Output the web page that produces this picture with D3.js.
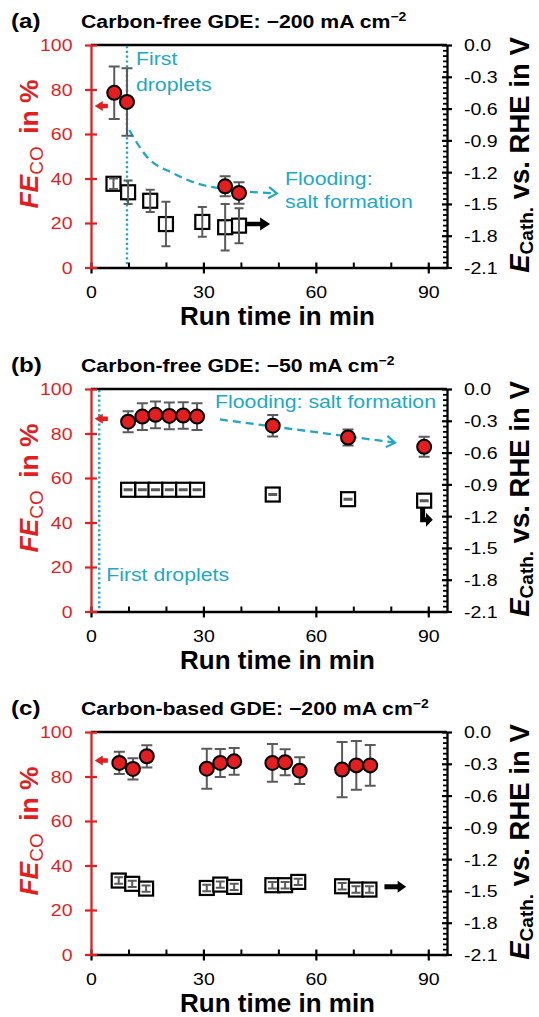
<!DOCTYPE html>
<html>
<head>
<meta charset="utf-8">
<script src="https://cdn.jsdelivr.net/npm/d3@7"></script>
<style>
  body { margin: 0; background: #fff; }
  svg { font-family: "Liberation Sans", Arial, sans-serif; }
</style>
</head>
<body>
<svg id="fig" width="539" height="1017"></svg>
<script>
// ---- data ----
const panelLetters = ['(a)', '(b)', '(c)'];
const panelTitles = ['Carbon-free GDE: \u2212200 mA cm', 'Carbon-free GDE: \u221250 mA cm', 'Carbon-based GDE: \u2212200 mA cm'];
const xTicks = [0, 30, 60, 90];
const xMinorTicks = [10, 20, 40, 50, 70, 80];
const feTicks = [0, 20, 40, 60, 80, 100];
const eTicks = [0, -0.3, -0.6, -0.9, -1.2, -1.5, -1.8, -2.1];
const eMinorStep = 0.05;

// (a) carbon-free, -200 mA cm-2
const timeFeA = [6.2, 9.6, 35.8, 39.5];
const feA = [78.5, 74.4, 36.5, 33.5];
const feErrA = [11.8, 15.2, 4.5, 4.8];
const timeEA = [6.0, 9.9, 15.8, 20.0, 29.7, 35.8, 39.5];
const eA = [-1.31, -1.39, -1.47, -1.69, -1.67, -1.72, -1.705];
const eErrA = [0.05, 0.11, 0.105, 0.21, 0.14, 0.22, 0.165];

// (b) carbon-free, -50 mA cm-2
const timeFeB = [9.9, 13.7, 17.2, 20.9, 24.6, 28.3, 48.5, 68.6, 88.9];
const feB = [85.3, 87.6, 88.4, 87.9, 88.1, 87.6, 83.5, 78.2, 74.0];
const feErrB = [4.7, 6.0, 6.0, 6.0, 6.0, 6.0, 4.8, 3.6, 4.5];
const timeEB = [9.9, 13.7, 17.2, 20.9, 24.6, 28.3, 48.5, 68.6, 88.9];
const eB = [-0.951, -0.951, -0.951, -0.951, -0.951, -0.951, -0.996, -1.04, -1.054];
const eErrB = [0.005, 0.005, 0.005, 0.005, 0.005, 0.005, 0.005, 0.005, 0.005];

// (c) carbon-based, -200 mA cm-2
const timeFeC = [7.55, 11.2, 14.9, 30.9, 34.5, 38.2, 48.4, 51.8, 55.7, 67.0, 70.8, 74.5];
const feC = [86.1, 83.4, 89.1, 83.5, 86.1, 86.8, 86.1, 86.4, 82.6, 83.1, 85.0, 85.0];
const feErrC = [5.0, 4.8, 5.0, 9.0, 6.3, 6.0, 8.5, 5.8, 6.0, 12.4, 11.0, 9.2];
const timeEC = [7.4, 11.0, 14.7, 30.9, 34.5, 38.2, 48.4, 51.8, 55.3, 67.0, 70.7, 74.3];
const eC = [-1.402, -1.433, -1.478, -1.472, -1.44, -1.462, -1.446, -1.446, -1.415, -1.456, -1.487, -1.487];
const eErrC = [0.03, 0.03, 0.03, 0.03, 0.03, 0.03, 0.03, 0.03, 0.03, 0.03, 0.03, 0.03];

// annotation guides
const dropletTime = [9.6, 2.2, null];
const floodCurveA = [[10.2, 61.8], [14.9, 49.8], [22, 42.3], [28.2, 37.8], [34.4, 35.6], [49.6, 33.3]];
const floodLineB = [[34.4, 86.3], [81.1, 75.9]];
const feArrowY = [72.6, 86.6, 87.2];

// ---- layout ----
const left = 91, right = 447, plotH = 222.5;
const panelTop = [45, 389, 732];
const RED = '#e41d1f', CYAN = '#1ea8c4', GREY = '#5b5b5b';
const SX = 1.15; // glyphs in the figure are wider than the installed font

const svg = d3.select('#fig');

const panels = [
  { fe: [timeFeA, feA, feErrA], e: [timeEA, eA, eErrA] },
  { fe: [timeFeB, feB, feErrB], e: [timeEB, eB, eErrB] },
  { fe: [timeFeC, feC, feErrC], e: [timeEC, eC, eErrC] }
];

function stretched(g, x, y, str, size, weight, color, anchor) {
  return g.append('text')
    .attr('transform', `translate(${x},${y}) scale(${SX},1)`)
    .attr('font-size', size)
    .attr('font-weight', weight || 'normal')
    .attr('fill', color || '#000')
    .attr('text-anchor', anchor || 'start')
    .text(str);
}

function hArrow(g, x0, x1, y, sh, hl, hh, color) {
  const d = Math.sign(x1 - x0);
  const b = x1 - d * hl;
  const pts = [[x0, y - sh], [b, y - sh], [b, y - hh], [x1, y], [b, y + hh], [b, y + sh], [x0, y + sh]];
  g.append('polygon').attr('points', pts.map(p => p.join(',')).join(' ')).attr('fill', color);
}

function chevron(g, p0, p1) {
  const a = Math.atan2(p1[1] - p0[1], p1[0] - p0[0]);
  const L = 10, s = 0.6;
  const pa = [p1[0] - L * Math.cos(a - s), p1[1] - L * Math.sin(a - s)];
  const pb = [p1[0] - L * Math.cos(a + s), p1[1] - L * Math.sin(a + s)];
  g.append('path')
    .attr('d', `M${pa}L${p1}L${pb}`)
    .attr('fill', 'none').attr('stroke', CYAN).attr('stroke-width', 2.2);
}

function errPath(px, yHi, yLo, cap) {
  return `M${px - cap},${yHi}H${px + cap}M${px},${yHi}V${yLo}M${px - cap},${yLo}H${px + cap}`;
}

panels.forEach((p, i) => {
  const top = panelTop[i], bottom = top + plotH;
  const x = d3.scaleLinear().domain([0, 95]).range([left, right]);
  const yFe = d3.scaleLinear().domain([0, 100]).range([bottom, top]);
  const yE = d3.scaleLinear().domain([-2.1, 0]).range([bottom, top]);
  const g = svg.append('g');

  // headings
  stretched(g, 11, top - 17, panelLetters[i], 21, 'bold');
  const t = g.append('text')
    .attr('transform', `translate(81,${top - 17}) scale(1.12,1)`)
    .attr('font-size', 19).attr('font-weight', 'bold');
  t.append('tspan').text(panelTitles[i]);
  t.append('tspan').attr('font-size', 12.5).attr('dy', -7).text('\u22122');

  // frame
  g.append('line').attr('x1', left).attr('x2', right).attr('y1', top).attr('y2', top)
    .attr('stroke', '#000').attr('stroke-width', 2.3);

  // x axis
  const xa = g.append('g').attr('transform', `translate(0,${bottom})`)
    .call(d3.axisBottom(x).tickValues(xTicks).tickSizeOuter(0).tickSize(0));
  xa.select('.domain').attr('stroke', '#000').attr('stroke-width', 2.3);
  xa.selectAll('.tick line').attr('y1', -5).attr('y2', 6).attr('stroke-width', 2.2);
  xa.selectAll('.tick text').attr('font-size', 17).attr('fill', '#000')
    .attr('y', 0).attr('dy', 0)
    .attr('transform', `translate(0,30.5) scale(${SX},1)`);
  g.append('g').attr('transform', `translate(0,${bottom})`)
    .call(d3.axisBottom(x).tickValues(xMinorTicks).tickSizeOuter(0).tickSize(-5).tickFormat(''))
    .call(a => a.select('.domain').remove())
    .selectAll('.tick line').attr('stroke-width', 2);

  g.append('text')
    .attr('x', (left + right) / 2 + 8.5).attr('y', bottom + 57.5)
    .attr('text-anchor', 'middle').attr('font-size', 26).attr('font-weight', 'bold')
    .text('Run time in min');

  // right axis (E)
  const ra = g.append('g').attr('transform', `translate(${right},0)`)
    .call(d3.axisRight(yE).tickValues(eTicks).tickSizeOuter(0).tickSize(0).tickFormat(d => d.toFixed(1)));
  ra.select('.domain').attr('stroke', '#000').attr('stroke-width', 2.3);
  ra.selectAll('.tick line').attr('x1', -5).attr('x2', 5).attr('stroke-width', 2.2);
  ra.selectAll('.tick text').attr('font-size', 17).attr('fill', '#000')
    .attr('x', 0).attr('dy', '0.35em')
    .attr('transform', `translate(17,0) scale(${SX},1)`);
  const eMinor = d3.range(-2.1 + eMinorStep, -0.001, eMinorStep)
    .filter(v => !eTicks.some(t => Math.abs(t - v) < 1e-6));
  g.append('g').attr('transform', `translate(${right},0)`)
    .call(d3.axisRight(yE).tickValues(eMinor).tickSizeOuter(0).tickSize(-4).tickFormat(''))
    .call(a => a.select('.domain').remove())
    .selectAll('.tick line').attr('stroke-width', 1.8);

  const rl = g.append('text')
    .attr('transform', `translate(529,${top + 110}) rotate(-90)`)
    .attr('text-anchor', 'middle').attr('font-size', 27.5).attr('font-weight', 'bold');
  rl.append('tspan').attr('font-style', 'italic').text('E');
  rl.append('tspan').attr('font-size', 19).attr('dy', 4).text('Cath.');
  rl.append('tspan').attr('dy', -4).text(' vs. RHE in V');

  // left axis (FE)
  const la = g.append('g').attr('transform', `translate(${left},0)`)
    .call(d3.axisLeft(yFe).tickValues(feTicks).tickSizeOuter(0).tickSize(0));
  la.select('.domain').attr('stroke', RED).attr('stroke-width', 2.3);
  la.selectAll('.tick line').attr('x1', -6).attr('x2', 6).attr('stroke', RED).attr('stroke-width', 2.2);
  la.selectAll('.tick text').attr('font-size', 17).attr('fill', RED)
    .attr('x', 0).attr('dy', '0.35em')
    .attr('transform', `translate(-18.5,0) scale(${SX},1)`);

  const ll = g.append('text')
    .attr('transform', `translate(38,${top + 99}) rotate(-90)`)
    .attr('text-anchor', 'middle').attr('font-size', 26.5).attr('font-weight', 'bold').attr('fill', RED);
  ll.append('tspan').attr('font-style', 'italic').text('FE');
  ll.append('tspan').attr('font-size', 19).attr('font-weight', 'normal').attr('dy', 4.5).text('CO');
  ll.append('tspan').attr('dy', -4.5).attr('dx', 5).text(' in %');

  // cyan annotations
  const ann = g.append('g');
  if (dropletTime[i] !== null) {
    ann.append('line')
      .attr('x1', x(dropletTime[i])).attr('x2', x(dropletTime[i]))
      .attr('y1', top + 1).attr('y2', bottom - 1)
      .attr('stroke', CYAN).attr('stroke-width', 2.4).attr('stroke-dasharray', '2.2,2.6');
  }
  if (i === 0) {
    const pts = floodCurveA.map(d => [x(d[0]), yFe(d[1])]);
    ann.append('path')
      .attr('d', d3.line().curve(d3.curveMonotoneX)(pts))
      .attr('fill', 'none').attr('stroke', CYAN).attr('stroke-width', 2.3).attr('stroke-dasharray', '8,5');
    chevron(ann, pts[pts.length - 2], pts[pts.length - 1]);
    stretched(ann, x(12.0), yFe(91.0), 'First', 18.5, 'normal', CYAN);
    stretched(ann, x(12.0), yFe(79.5), 'droplets', 18.5, 'normal', CYAN);
    stretched(ann, x(51.8), yFe(37.1), 'Flooding:', 18.5, 'normal', CYAN);
    stretched(ann, x(51.8), yFe(26.6), 'salt formation', 18.5, 'normal', CYAN);
  }
  if (i === 1) {
    const pts = floodLineB.map(d => [x(d[0]), yFe(d[1])]);
    ann.append('path')
      .attr('d', d3.line()(pts))
      .attr('fill', 'none').attr('stroke', CYAN).attr('stroke-width', 2.3).attr('stroke-dasharray', '8,5');
    chevron(ann, pts[0], pts[1]);
    stretched(ann, x(4.05), yFe(13.6), 'First droplets', 18.5, 'normal', CYAN);
    stretched(ann, x(33.1), yFe(91.3), 'Flooding: salt formation', 18.5, 'normal', CYAN);
  }

  // axis pointer arrows
  hArrow(g, x(4.5), x(1.0), yFe(feArrowY[i]), 2.2, 8, 5, RED);
  if (i === 0) hArrow(g, x(39.5), x(47.8), yE(-1.69), 2.3, 10, 6.5, '#000');
  if (i === 2) hArrow(g, x(78.3), x(84.1), yE(-1.46), 2.5, 8.5, 6, '#000');
  if (i === 1) {
    const bx = x(88.5), by = yE(-1.235);
    g.append('path').attr('d', `M${bx},${yE(-1.054)}V${by}H${x(89.6)}`)
      .attr('fill', 'none').attr('stroke', '#000').attr('stroke-width', 5);
    g.append('polygon')
      .attr('points', `${x(89.4)},${by - 7} ${x(91.2)},${by} ${x(89.4)},${by + 7}`)
      .attr('fill', '#000');
  }

  // E (squares) with error bars on top
  const [te, ev, ee] = p.e;
  const sq = 14;
  g.append('g').selectAll('rect').data(te).join('rect')
    .attr('x', (d) => x(d) - sq / 2)
    .attr('y', (d, k) => yE(ev[k]) - sq / 2)
    .attr('width', sq).attr('height', sq)
    .attr('fill', '#fff').attr('stroke', '#000').attr('stroke-width', 2.2);
  g.append('g').selectAll('path').data(te).join('path')
    .attr('d', (d, k) => errPath(x(d), yE(ev[k] + ee[k]), yE(ev[k] - ee[k]), 4.5))
    .attr('fill', 'none').attr('stroke', GREY).attr('stroke-width', 2);

  // FE (circles) with error bars behind
  const [tf, fv, fe] = p.fe;
  g.append('g').selectAll('path').data(tf).join('path')
    .attr('d', (d, k) => errPath(x(d), yFe(fv[k] + fe[k]), yFe(fv[k] - fe[k]), 5.5))
    .attr('fill', 'none').attr('stroke', GREY).attr('stroke-width', 2);
  g.append('g').selectAll('circle').data(tf).join('circle')
    .attr('cx', (d) => x(d))
    .attr('cy', (d, k) => yFe(fv[k]))
    .attr('r', 7)
    .attr('fill', RED).attr('stroke', '#000').attr('stroke-width', 2);
});
</script>
</body>
</html>
